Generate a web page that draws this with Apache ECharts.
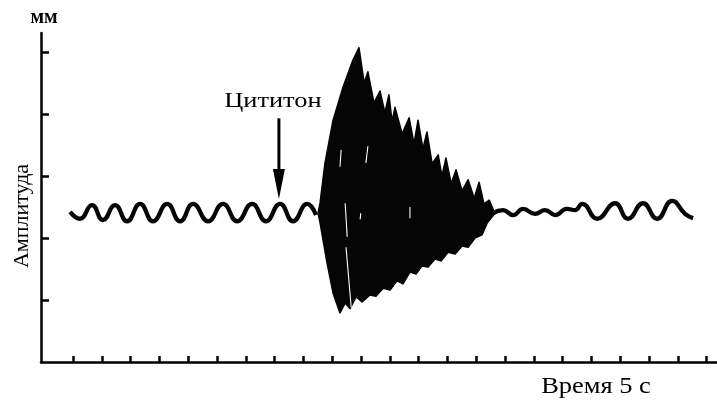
<!DOCTYPE html>
<html><head><meta charset="utf-8">
<script src="https://cdn.jsdelivr.net/npm/echarts@6/dist/echarts.min.js"></script>
<style>html,body{margin:0;padding:0;background:#fff}#c{width:717px;height:402px}</style>
</head><body><div id="c"></div>
<script>
// Axis ticks (time units along x, amplitude in mm along y)
const xTicks = [1.11,2.11,3.11,4.11,5.11,6.11,7.11,8.11,9.11,10.11,11.11,12.11,13.11,14.11,15.11,16.11,17.11,18.11,19.11,20.11,21.11,22.11,23.11];
const yTicks = [1,2,3,4,5];

// Trace before the drug (peaks and troughs)
const waveBeforeX = [1.01,1.35,1.77,2.15,2.57,2.99,3.44,3.89,4.38,4.83,5.28,5.80,6.32,6.81,7.33,7.81,8.30,8.75,9.24,9.55];
const waveBeforeY = [2.42,2.31,2.53,2.29,2.53,2.27,2.55,2.27,2.55,2.27,2.55,2.27,2.55,2.27,2.55,2.27,2.55,2.27,2.55,2.37];

// Trace after the burst
const waveAfterX = [15.69,16.04,16.39,16.74,17.15,17.50,17.85,18.26,18.54,18.79,19.31,19.93,20.38,20.90,21.39,21.91,22.36,22.64];
const waveAfterY = [2.40,2.45,2.37,2.47,2.39,2.45,2.37,2.47,2.45,2.55,2.31,2.56,2.31,2.56,2.31,2.60,2.39,2.32];

// Burst envelope: upper edge (spike tips / valleys)
const burstUpperX = [9.62,9.69,9.86,10.14,10.49,10.83,11.04,11.22,11.35,11.56,11.77,11.94,12.08,12.19,12.29,12.54,12.78,12.95,13.09,13.26,13.40,13.58,13.79,13.92,14.06,14.24,14.41,14.62,14.83,15.04,15.21,15.38,15.56,15.76];
const burstUpperY = [2.40,2.57,3.21,3.90,4.44,4.87,5.07,4.50,4.68,4.18,4.37,4.02,4.31,3.88,4.11,3.68,3.94,3.52,3.90,3.44,3.71,3.20,3.34,3.00,3.29,2.88,3.10,2.76,2.94,2.64,2.90,2.55,2.61,2.40];
// Burst envelope: lower edge
const burstLowerX = [9.62,9.69,9.93,10.14,10.38,10.56,10.73,10.94,11.15,11.42,11.63,11.88,12.12,12.36,12.57,12.81,13.02,13.23,13.44,13.68,13.89,14.13,14.38,14.62,14.83,15.07,15.31,15.49,15.76];
const burstLowerY = [2.40,2.24,1.60,1.11,0.79,0.95,0.86,1.05,0.97,1.08,1.06,1.19,1.16,1.31,1.26,1.45,1.42,1.55,1.53,1.66,1.63,1.77,1.74,1.87,1.85,2.00,2.05,2.24,2.40];

// Thin light streaks visible inside the burst: [x1, y1, x2, y2]
const streaks = [
  [10.56, 2.56, 10.63, 2.02],
  [10.59, 1.85, 10.77, 0.88],
  [10.42, 3.42, 10.38, 3.15],
  [11.35, 3.48, 11.28, 3.21],
  [12.81, 2.50, 12.81, 2.32],
  [11.10, 2.40, 11.08, 2.30]
];

// Annotation anchor
const arrowX = 8.26, arrowTopY = 3.93, arrowTipY = 2.63;

const FONT = "'Liberation Serif','Times New Roman',serif";
const zip = (xs, ys) => xs.map((x, i) => [x, ys[i]]);

const chart = echarts.init(document.getElementById('c'));
chart.setOption({
  animation: false,
  backgroundColor: '#fff',
  grid: {left: 41, right: 0, top: 33, bottom: 40},
  xAxis: {
    type: 'value', min: 0, max: 23.47,
    axisLine: {lineStyle: {color: '#000', width: 2.5}},
    axisTick: {inside: true, length: 6, lineStyle: {color: '#000', width: 2.5}, customValues: xTicks},
    axisLabel: {show: false},
    splitLine: {show: false}
  },
  yAxis: {
    type: 'value', min: 0, max: 5.306,
    axisLine: {show: true, lineStyle: {color: '#000', width: 2.5}},
    axisTick: {show: true, inside: true, length: 8, lineStyle: {color: '#000', width: 2.5}, customValues: yTicks},
    axisLabel: {show: false},
    splitLine: {show: false}
  },
  series: [
    {
      type: 'custom',
      data: [[burstUpperX[0], burstUpperY[0]]],
      renderItem: function (params, api) {
        const pts = [];
        for (let i = 0; i < burstUpperX.length; i++) pts.push(api.coord([burstUpperX[i], burstUpperY[i]]));
        for (let i = burstLowerX.length - 1; i >= 0; i--) pts.push(api.coord([burstLowerX[i], burstLowerY[i]]));
        return {type: 'polygon', shape: {points: pts}, style: {fill: '#050505', stroke: '#050505', lineWidth: 1.5, lineJoin: 'round'}};
      },
      z: 3
    },
    {
      type: 'custom',
      data: streaks,
      renderItem: function (params, api) {
        const a = api.coord([api.value(0), api.value(1)]);
        const b = api.coord([api.value(2), api.value(3)]);
        return {type: 'line', shape: {x1: a[0], y1: a[1], x2: b[0], y2: b[1]}, style: {stroke: '#fff', lineWidth: 1.1}};
      },
      z: 4
    },
    {
      type: 'line', data: zip(waveBeforeX, waveBeforeY), smooth: 0.5, symbol: 'none',
      lineStyle: {color: '#050505', width: 4.3}, z: 2
    },
    {
      type: 'line', data: zip(waveAfterX, waveAfterY), smooth: 0.5, symbol: 'none',
      lineStyle: {color: '#050505', width: 4.3}, z: 2
    }
  ]
});

const arrowTop = chart.convertToPixel({gridIndex: 0}, [arrowX, arrowTopY]);
const arrowTip = chart.convertToPixel({gridIndex: 0}, [arrowX, arrowTipY]);
const headLen = 30, headHalf = 6;
chart.setOption({
  graphic: [
    {type: 'line', shape: {x1: arrowTop[0], y1: arrowTop[1], x2: arrowTip[0], y2: arrowTip[1] - headLen + 4}, style: {stroke: '#000', lineWidth: 3}},
    {type: 'polygon', shape: {points: [[arrowTip[0] - headHalf, arrowTip[1] - headLen], [arrowTip[0] + headHalf, arrowTip[1] - headLen], [arrowTip[0], arrowTip[1]]]}, style: {fill: '#000'}},
    {type: 'text', x: arrowTip[0] - 6, y: arrowTop[1] - 6, scaleX: 1.2, style: {text: 'Цититон', font: '22px ' + FONT, fill: '#000', textAlign: 'center', textVerticalAlign: 'bottom'}},
    {type: 'text', x: 44, y: 18, style: {text: 'мм', font: 'bold 20px ' + FONT, fill: '#000', textAlign: 'center', textVerticalAlign: 'middle'}},
    {type: 'text', x: 22, y: 216, rotation: Math.PI / 2, style: {text: 'Амплитуда', font: '22px ' + FONT, fill: '#000', textAlign: 'center', textVerticalAlign: 'middle'}},
    {type: 'text', x: 596, y: 387, scaleX: 1.15, style: {text: 'Время 5 с', font: '23px ' + FONT, fill: '#000', textAlign: 'center', textVerticalAlign: 'middle'}}
  ]
});
</script>
</body></html>
